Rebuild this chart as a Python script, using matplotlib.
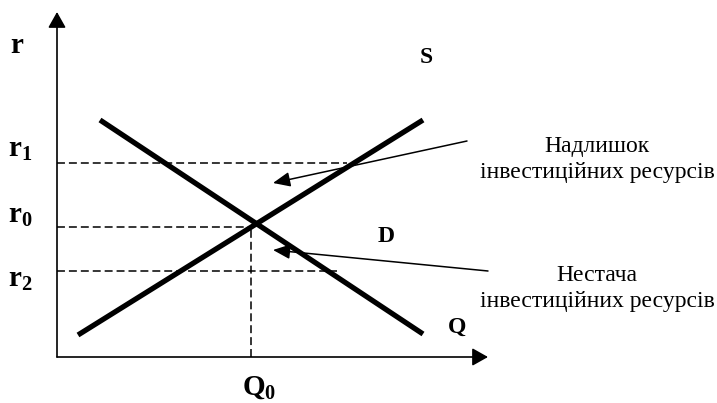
import matplotlib.pyplot as plt

plt.rcParams['font.family'] = ['Liberation Serif', 'DejaVu Serif']
plt.rcParams['mathtext.fontset'] = 'custom'
plt.rcParams['mathtext.rm'] = 'Liberation Serif:bold'
plt.rcParams['mathtext.bf'] = 'Liberation Serif:bold'
plt.rcParams['mathtext.it'] = 'Liberation Serif:bold'

# крива пропозиції S та попиту D (умовні одиниці: Q, r)
supply_q = [21, 366]
supply_r = [22, 237]
demand_q = [43, 366]
demand_r = [237, 23]

# рівні ставки та рівноважний обсяг
rate_labels = [r'$\mathbf{r_1}$', r'$\mathbf{r_0}$', r'$\mathbf{r_2}$']
rate_values = [194, 130, 86]
rate_dash_end = [290, 194, 280]
q0 = 194

# підписи-пояснення та кінці стрілок
notes = ['Надлишок\nінвестиційних ресурсів', 'Нестача\nінвестиційних ресурсів']
note_tails = [(410, 216), (431, 86)]
note_tips = [(216, 174), (216, 107)]

fig = plt.figure(figsize=(7.17, 4.03), dpi=100)
ax = fig.add_axes([0, 0, 1, 1])
ax.set_xlim(-57, 660)
ax.set_ylim(-46, 357)
ax.axis('off')

# осі зі стрілками
axis_arrow = dict(arrowstyle='-|>,head_length=0.48,head_width=0.27',
                  lw=1.2, color='black', mutation_scale=20,
                  shrinkA=0, shrinkB=0)
ax.annotate('', xy=(0, 345), xytext=(0, 0), arrowprops=axis_arrow)
ax.annotate('', xy=(431, 0), xytext=(0, 0), arrowprops=axis_arrow)

# пунктирні лінії рівнів
for val, end in zip(rate_values, rate_dash_end):
    ax.plot([0, end], [val, val], color='black', lw=1.1,
            linestyle=(0, (5.2, 2.6)))
ax.plot([q0, q0], [0, rate_values[1]], color='black', lw=1.1,
        linestyle=(0, (5.2, 2.6)))

# S і D
ax.plot(supply_q, supply_r, color='black', lw=3.8, solid_capstyle='butt')
ax.plot(demand_q, demand_r, color='black', lw=3.8, solid_capstyle='butt')

# стрілки до пояснень
for tail, tip in zip(note_tails, note_tips):
    ax.annotate('', xy=tip, xytext=tail,
                arrowprops=dict(arrowstyle='-|>,head_length=0.65,head_width=0.28',
                                lw=1.1, color='black', mutation_scale=16,
                                shrinkA=0, shrinkB=0))

# підписи
ax.text(-47, 304, r'$\mathbf{r}$', fontsize=21, ha='left', va='baseline')
for lab, val, base in zip(rate_labels, rate_values, [200, 134, 70]):
    ax.text(-49, base, lab, fontsize=21, ha='left', va='baseline')
ax.text(q0 - 9, -38, r'$\mathbf{Q_0}$', fontsize=21, ha='left', va='baseline')

ax.text(363, 294, 'S', fontsize=17, fontweight='bold', ha='left', va='baseline')
ax.text(321, 115, 'D', fontsize=17, fontweight='bold', ha='left', va='baseline')
ax.text(391, 24, 'Q', fontsize=17, fontweight='bold', ha='left', va='baseline')

ax.text(540, 179, notes[0], fontsize=17, ha='center', va='baseline',
        linespacing=1.3)
ax.text(540, 50, notes[1], fontsize=17, ha='center', va='baseline',
        linespacing=1.3)

fig.savefig('out.png', dpi=100)
